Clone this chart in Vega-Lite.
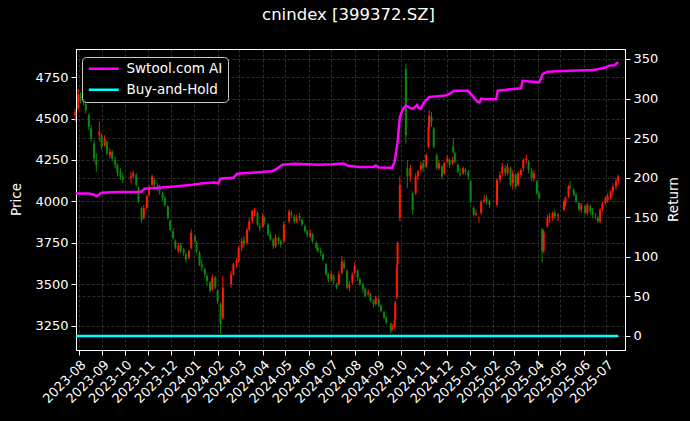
{
  "$schema": "https://vega.github.io/schema/vega-lite/v6.json",
  "width": 549,
  "height": 301,
  "autosize": {"type": "none"},
  "padding": {"left": 76, "top": 49, "right": 65, "bottom": 71},
  "background": "black",
  "title": {"text": "cnindex [399372.SZ]", "color": "white", "fontSize": 16.5, "fontWeight": "normal", "font": "DejaVu Sans", "anchor": "middle", "offset": 26, "dx": -2},
  "config": {
    "view": {"stroke": "white", "strokeWidth": 1},
    "font": "DejaVu Sans",
    "axis": {
      "labelColor": "white", "labelFontSize": 13, "labelFont": "DejaVu Sans",
      "titleColor": "white", "titleFontSize": 13.5, "titleFontWeight": "normal", "titleFont": "DejaVu Sans",
      "tickColor": "white", "tickSize": 5, "domainColor": "white",
      "gridColor": "#808080", "gridOpacity": 0.5, "gridDash": [3, 2], "gridWidth": 0.7,
      "labelPadding": 3
    },
    "legend": {
      "labelColor": "white", "labelFontSize": 13.5, "labelFont": "DejaVu Sans",
      "fillColor": "rgba(0,0,0,0.8)", "strokeColor": "#cccccc", "cornerRadius": 4
    }
  },
  "datasets": {
    "candles": [
      {"d":"2023-07-27","o":4520,"h":4560,"l":4480,"c":4540},
      {"d":"2023-07-31","o":4560,"h":4680,"l":4550,"c":4650},
      {"d":"2023-08-03","o":4640,"h":4660,"l":4590,"c":4610},
      {"d":"2023-08-07","o":4620,"h":4650,"l":4580,"c":4600},
      {"d":"2023-08-10","o":4590,"h":4610,"l":4530,"c":4550},
      {"d":"2023-08-14","o":4520,"h":4530,"l":4430,"c":4450},
      {"d":"2023-08-17","o":4440,"h":4460,"l":4360,"c":4380},
      {"d":"2023-08-21","o":4350,"h":4370,"l":4240,"c":4260},
      {"d":"2023-08-24","o":4250,"h":4290,"l":4180,"c":4220},
      {"d":"2023-08-28","o":4400,"h":4482,"l":4360,"c":4420},
      {"d":"2023-08-31","o":4400,"h":4410,"l":4310,"c":4330},
      {"d":"2023-09-04","o":4340,"h":4400,"l":4330,"c":4380},
      {"d":"2023-09-07","o":4360,"h":4370,"l":4280,"c":4290},
      {"d":"2023-09-11","o":4280,"h":4320,"l":4260,"c":4300},
      {"d":"2023-09-14","o":4300,"h":4310,"l":4240,"c":4260},
      {"d":"2023-09-18","o":4250,"h":4270,"l":4200,"c":4220},
      {"d":"2023-09-21","o":4220,"h":4230,"l":4150,"c":4170},
      {"d":"2023-09-25","o":4180,"h":4200,"l":4130,"c":4150},
      {"d":"2023-09-28","o":4150,"h":4170,"l":4110,"c":4130},
      {"d":"2023-10-09","o":4140,"h":4180,"l":4110,"c":4150},
      {"d":"2023-10-12","o":4150,"h":4185,"l":4140,"c":4170},
      {"d":"2023-10-16","o":4160,"h":4170,"l":4090,"c":4100},
      {"d":"2023-10-19","o":4080,"h":4090,"l":3990,"c":4000},
      {"d":"2023-10-23","o":3960,"h":3970,"l":3872,"c":3890},
      {"d":"2023-10-26","o":3900,"h":3980,"l":3890,"c":3960},
      {"d":"2023-10-30","o":3960,"h":4040,"l":3950,"c":4030},
      {"d":"2023-11-02","o":4040,"h":4100,"l":4030,"c":4080},
      {"d":"2023-11-06","o":4100,"h":4162,"l":4090,"c":4150},
      {"d":"2023-11-09","o":4130,"h":4140,"l":4080,"c":4100},
      {"d":"2023-11-13","o":4090,"h":4110,"l":4060,"c":4080},
      {"d":"2023-11-16","o":4090,"h":4100,"l":4040,"c":4060},
      {"d":"2023-11-20","o":4050,"h":4060,"l":4000,"c":4020},
      {"d":"2023-11-23","o":4020,"h":4030,"l":3970,"c":3980},
      {"d":"2023-11-27","o":3970,"h":3980,"l":3890,"c":3900},
      {"d":"2023-11-30","o":3880,"h":3890,"l":3820,"c":3830},
      {"d":"2023-12-04","o":3820,"h":3840,"l":3770,"c":3780},
      {"d":"2023-12-07","o":3760,"h":3770,"l":3710,"c":3720},
      {"d":"2023-12-11","o":3700,"h":3750,"l":3690,"c":3730},
      {"d":"2023-12-14","o":3740,"h":3750,"l":3690,"c":3700},
      {"d":"2023-12-18","o":3710,"h":3720,"l":3670,"c":3690},
      {"d":"2023-12-21","o":3680,"h":3690,"l":3630,"c":3650},
      {"d":"2023-12-25","o":3660,"h":3710,"l":3650,"c":3700},
      {"d":"2023-12-28","o":3720,"h":3830,"l":3710,"c":3810},
      {"d":"2024-01-02","o":3790,"h":3800,"l":3750,"c":3760},
      {"d":"2024-01-04","o":3750,"h":3760,"l":3690,"c":3700},
      {"d":"2024-01-08","o":3690,"h":3700,"l":3610,"c":3620},
      {"d":"2024-01-11","o":3620,"h":3650,"l":3580,"c":3600},
      {"d":"2024-01-15","o":3590,"h":3600,"l":3540,"c":3560},
      {"d":"2024-01-18","o":3550,"h":3560,"l":3490,"c":3520},
      {"d":"2024-01-22","o":3510,"h":3520,"l":3450,"c":3460},
      {"d":"2024-01-25","o":3470,"h":3560,"l":3460,"c":3540},
      {"d":"2024-01-29","o":3540,"h":3550,"l":3470,"c":3480},
      {"d":"2024-02-01","o":3460,"h":3470,"l":3380,"c":3400},
      {"d":"2024-02-05","o":3380,"h":3390,"l":3202,"c":3260},
      {"d":"2024-02-08","o":3300,"h":3550,"l":3290,"c":3480},
      {"d":"2024-02-19","o":3500,"h":3580,"l":3480,"c":3560},
      {"d":"2024-02-22","o":3560,"h":3630,"l":3550,"c":3620},
      {"d":"2024-02-26","o":3630,"h":3660,"l":3600,"c":3640},
      {"d":"2024-02-29","o":3640,"h":3730,"l":3630,"c":3720},
      {"d":"2024-03-04","o":3720,"h":3780,"l":3700,"c":3760},
      {"d":"2024-03-07","o":3770,"h":3790,"l":3720,"c":3740},
      {"d":"2024-03-11","o":3750,"h":3840,"l":3740,"c":3830},
      {"d":"2024-03-14","o":3830,"h":3900,"l":3820,"c":3880},
      {"d":"2024-03-18","o":3880,"h":3950,"l":3870,"c":3940},
      {"d":"2024-03-21","o":3930,"h":3962,"l":3910,"c":3950},
      {"d":"2024-03-25","o":3930,"h":3940,"l":3850,"c":3860},
      {"d":"2024-03-28","o":3850,"h":3870,"l":3820,"c":3840},
      {"d":"2024-04-01","o":3850,"h":3930,"l":3840,"c":3910},
      {"d":"2024-04-03","o":3900,"h":3910,"l":3860,"c":3880},
      {"d":"2024-04-08","o":3860,"h":3870,"l":3790,"c":3800},
      {"d":"2024-04-11","o":3800,"h":3820,"l":3760,"c":3770},
      {"d":"2024-04-15","o":3770,"h":3780,"l":3712,"c":3730},
      {"d":"2024-04-18","o":3730,"h":3800,"l":3720,"c":3780},
      {"d":"2024-04-22","o":3780,"h":3790,"l":3740,"c":3760},
      {"d":"2024-04-25","o":3760,"h":3770,"l":3720,"c":3740},
      {"d":"2024-04-29","o":3760,"h":3880,"l":3750,"c":3860},
      {"d":"2024-05-06","o":3880,"h":3952,"l":3870,"c":3940},
      {"d":"2024-05-09","o":3930,"h":3945,"l":3900,"c":3920},
      {"d":"2024-05-13","o":3910,"h":3920,"l":3870,"c":3880},
      {"d":"2024-05-16","o":3880,"h":3920,"l":3870,"c":3900},
      {"d":"2024-05-20","o":3910,"h":3930,"l":3880,"c":3900},
      {"d":"2024-05-23","o":3890,"h":3900,"l":3850,"c":3860},
      {"d":"2024-05-27","o":3850,"h":3860,"l":3810,"c":3820},
      {"d":"2024-05-30","o":3820,"h":3830,"l":3780,"c":3800},
      {"d":"2024-06-03","o":3790,"h":3830,"l":3780,"c":3810},
      {"d":"2024-06-06","o":3800,"h":3810,"l":3750,"c":3760},
      {"d":"2024-06-11","o":3750,"h":3760,"l":3710,"c":3720},
      {"d":"2024-06-13","o":3720,"h":3740,"l":3690,"c":3700},
      {"d":"2024-06-17","o":3700,"h":3720,"l":3670,"c":3690},
      {"d":"2024-06-20","o":3680,"h":3690,"l":3640,"c":3650},
      {"d":"2024-06-24","o":3620,"h":3630,"l":3550,"c":3560},
      {"d":"2024-06-27","o":3560,"h":3570,"l":3510,"c":3530},
      {"d":"2024-07-01","o":3530,"h":3580,"l":3520,"c":3560},
      {"d":"2024-07-04","o":3550,"h":3560,"l":3500,"c":3520},
      {"d":"2024-07-08","o":3500,"h":3510,"l":3470,"c":3480},
      {"d":"2024-07-11","o":3500,"h":3580,"l":3490,"c":3560},
      {"d":"2024-07-15","o":3570,"h":3672,"l":3560,"c":3640},
      {"d":"2024-07-18","o":3630,"h":3650,"l":3590,"c":3600},
      {"d":"2024-07-22","o":3580,"h":3590,"l":3470,"c":3480},
      {"d":"2024-07-25","o":3480,"h":3520,"l":3460,"c":3500},
      {"d":"2024-07-29","o":3510,"h":3570,"l":3500,"c":3560},
      {"d":"2024-08-01","o":3570,"h":3632,"l":3560,"c":3610},
      {"d":"2024-08-05","o":3580,"h":3590,"l":3520,"c":3540},
      {"d":"2024-08-08","o":3530,"h":3540,"l":3490,"c":3500},
      {"d":"2024-08-12","o":3500,"h":3510,"l":3450,"c":3470},
      {"d":"2024-08-15","o":3470,"h":3480,"l":3420,"c":3430},
      {"d":"2024-08-19","o":3440,"h":3470,"l":3430,"c":3450},
      {"d":"2024-08-22","o":3440,"h":3450,"l":3390,"c":3400},
      {"d":"2024-08-26","o":3400,"h":3410,"l":3360,"c":3380},
      {"d":"2024-08-29","o":3380,"h":3430,"l":3370,"c":3420},
      {"d":"2024-09-02","o":3410,"h":3420,"l":3360,"c":3370},
      {"d":"2024-09-05","o":3370,"h":3380,"l":3330,"c":3340},
      {"d":"2024-09-09","o":3330,"h":3340,"l":3290,"c":3300},
      {"d":"2024-09-12","o":3300,"h":3310,"l":3260,"c":3270},
      {"d":"2024-09-18","o":3260,"h":3270,"l":3202,"c":3220},
      {"d":"2024-09-20","o":3230,"h":3260,"l":3220,"c":3240},
      {"d":"2024-09-23","o":3240,"h":3290,"l":3230,"c":3280},
      {"d":"2024-09-24","o":3290,"h":3400,"l":3280,"c":3390},
      {"d":"2024-09-26","o":3420,"h":3620,"l":3410,"c":3600},
      {"d":"2024-09-27","o":3620,"h":3760,"l":3600,"c":3750},
      {"d":"2024-09-30","o":3900,"h":4150,"l":3880,"c":4100},
      {"d":"2024-10-08","o":4800,"h":4832,"l":4350,"c":4400},
      {"d":"2024-10-10","o":4200,"h":4250,"l":4080,"c":4150},
      {"d":"2024-10-14","o":4150,"h":4220,"l":4120,"c":4200},
      {"d":"2024-10-17","o":4050,"h":4060,"l":3922,"c":3950},
      {"d":"2024-10-21","o":4050,"h":4170,"l":4040,"c":4150},
      {"d":"2024-10-24","o":4150,"h":4190,"l":4130,"c":4180},
      {"d":"2024-10-28","o":4190,"h":4240,"l":4170,"c":4220},
      {"d":"2024-10-31","o":4230,"h":4250,"l":4180,"c":4200},
      {"d":"2024-11-04","o":4210,"h":4290,"l":4200,"c":4280},
      {"d":"2024-11-07","o":4330,"h":4470,"l":4320,"c":4450},
      {"d":"2024-11-08","o":4450,"h":4552,"l":4430,"c":4520},
      {"d":"2024-11-11","o":4510,"h":4540,"l":4450,"c":4480},
      {"d":"2024-11-14","o":4440,"h":4450,"l":4320,"c":4330},
      {"d":"2024-11-18","o":4280,"h":4290,"l":4190,"c":4200},
      {"d":"2024-11-21","o":4200,"h":4250,"l":4190,"c":4230},
      {"d":"2024-11-25","o":4210,"h":4220,"l":4130,"c":4150},
      {"d":"2024-11-28","o":4170,"h":4240,"l":4160,"c":4230},
      {"d":"2024-12-02","o":4240,"h":4280,"l":4230,"c":4260},
      {"d":"2024-12-05","o":4250,"h":4260,"l":4200,"c":4220},
      {"d":"2024-12-09","o":4230,"h":4270,"l":4220,"c":4250},
      {"d":"2024-12-10","o":4330,"h":4382,"l":4290,"c":4300},
      {"d":"2024-12-12","o":4290,"h":4300,"l":4230,"c":4240},
      {"d":"2024-12-16","o":4220,"h":4230,"l":4170,"c":4180},
      {"d":"2024-12-19","o":4170,"h":4200,"l":4150,"c":4160},
      {"d":"2024-12-23","o":4170,"h":4210,"l":4160,"c":4200},
      {"d":"2024-12-26","o":4190,"h":4200,"l":4160,"c":4180},
      {"d":"2024-12-30","o":4180,"h":4190,"l":4130,"c":4150},
      {"d":"2025-01-02","o":4120,"h":4130,"l":3990,"c":4000},
      {"d":"2025-01-06","o":3960,"h":3970,"l":3910,"c":3920},
      {"d":"2025-01-09","o":3920,"h":3950,"l":3910,"c":3930},
      {"d":"2025-01-13","o":3900,"h":3910,"l":3872,"c":3900},
      {"d":"2025-01-16","o":3930,"h":4010,"l":3920,"c":4000},
      {"d":"2025-01-20","o":4000,"h":4040,"l":3990,"c":4010},
      {"d":"2025-01-23","o":4020,"h":4040,"l":3980,"c":4000},
      {"d":"2025-01-27","o":4000,"h":4010,"l":3960,"c":3980},
      {"d":"2025-02-06","o":3980,"h":4140,"l":3970,"c":4130},
      {"d":"2025-02-10","o":4130,"h":4180,"l":4110,"c":4160},
      {"d":"2025-02-13","o":4170,"h":4232,"l":4150,"c":4210},
      {"d":"2025-02-17","o":4200,"h":4220,"l":4150,"c":4170},
      {"d":"2025-02-20","o":4170,"h":4230,"l":4160,"c":4210},
      {"d":"2025-02-24","o":4200,"h":4210,"l":4090,"c":4100},
      {"d":"2025-02-27","o":4110,"h":4190,"l":4070,"c":4170},
      {"d":"2025-03-03","o":4160,"h":4170,"l":4072,"c":4090},
      {"d":"2025-03-06","o":4100,"h":4182,"l":4090,"c":4170},
      {"d":"2025-03-10","o":4160,"h":4200,"l":4140,"c":4190},
      {"d":"2025-03-13","o":4200,"h":4260,"l":4180,"c":4250},
      {"d":"2025-03-17","o":4250,"h":4282,"l":4230,"c":4260},
      {"d":"2025-03-20","o":4240,"h":4250,"l":4170,"c":4190},
      {"d":"2025-03-24","o":4180,"h":4200,"l":4120,"c":4140},
      {"d":"2025-03-27","o":4140,"h":4190,"l":4120,"c":4170},
      {"d":"2025-03-31","o":4120,"h":4130,"l":4040,"c":4050},
      {"d":"2025-04-03","o":4050,"h":4060,"l":4010,"c":4020},
      {"d":"2025-04-07","o":3830,"h":3840,"l":3632,"c":3700},
      {"d":"2025-04-09","o":3700,"h":3830,"l":3690,"c":3820},
      {"d":"2025-04-14","o":3850,"h":3920,"l":3840,"c":3900},
      {"d":"2025-04-17","o":3900,"h":3930,"l":3870,"c":3910},
      {"d":"2025-04-21","o":3900,"h":3940,"l":3880,"c":3930},
      {"d":"2025-04-24","o":3930,"h":3950,"l":3890,"c":3910},
      {"d":"2025-04-28","o":3910,"h":3930,"l":3880,"c":3920},
      {"d":"2025-05-06","o":3950,"h":4010,"l":3940,"c":4000},
      {"d":"2025-05-08","o":3990,"h":4030,"l":3970,"c":4020},
      {"d":"2025-05-12","o":4030,"h":4100,"l":4020,"c":4090},
      {"d":"2025-05-14","o":4090,"h":4122,"l":4070,"c":4080},
      {"d":"2025-05-19","o":4070,"h":4080,"l":4030,"c":4040},
      {"d":"2025-05-22","o":4040,"h":4050,"l":3990,"c":4000},
      {"d":"2025-05-26","o":3990,"h":4000,"l":3940,"c":3950},
      {"d":"2025-05-29","o":3950,"h":3990,"l":3930,"c":3980},
      {"d":"2025-06-03","o":3970,"h":3980,"l":3920,"c":3930},
      {"d":"2025-06-06","o":3930,"h":3990,"l":3920,"c":3980},
      {"d":"2025-06-10","o":3970,"h":3980,"l":3920,"c":3940},
      {"d":"2025-06-13","o":3940,"h":3960,"l":3900,"c":3920},
      {"d":"2025-06-17","o":3910,"h":3930,"l":3890,"c":3910},
      {"d":"2025-06-20","o":3900,"h":3910,"l":3872,"c":3880},
      {"d":"2025-06-23","o":3880,"h":3960,"l":3870,"c":3950},
      {"d":"2025-06-26","o":3950,"h":4000,"l":3940,"c":3990},
      {"d":"2025-06-30","o":3990,"h":4030,"l":3980,"c":4020},
      {"d":"2025-07-03","o":4010,"h":4050,"l":3990,"c":4030},
      {"d":"2025-07-07","o":4020,"h":4070,"l":4010,"c":4060},
      {"d":"2025-07-10","o":4060,"h":4110,"l":4040,"c":4090},
      {"d":"2025-07-14","o":4090,"h":4140,"l":4070,"c":4120},
      {"d":"2025-07-17","o":4120,"h":4162,"l":4100,"c":4150}
    ],
    "ret": [
      {"d":"2023-07-28","s":"Swtool.com AI","v":180},
      {"d":"2023-08-14","s":"Swtool.com AI","v":180},
      {"d":"2023-08-21","s":"Swtool.com AI","v":178.5},
      {"d":"2023-08-24","s":"Swtool.com AI","v":176.5},
      {"d":"2023-08-31","s":"Swtool.com AI","v":181},
      {"d":"2023-09-22","s":"Swtool.com AI","v":182},
      {"d":"2023-10-19","s":"Swtool.com AI","v":182},
      {"d":"2023-10-23","s":"Swtool.com AI","v":182.5},
      {"d":"2023-10-27","s":"Swtool.com AI","v":186},
      {"d":"2023-11-19","s":"Swtool.com AI","v":187.5},
      {"d":"2023-12-06","s":"Swtool.com AI","v":189},
      {"d":"2023-12-29","s":"Swtool.com AI","v":191},
      {"d":"2024-01-13","s":"Swtool.com AI","v":193},
      {"d":"2024-01-28","s":"Swtool.com AI","v":194},
      {"d":"2024-02-02","s":"Swtool.com AI","v":193},
      {"d":"2024-02-05","s":"Swtool.com AI","v":199},
      {"d":"2024-02-22","s":"Swtool.com AI","v":200},
      {"d":"2024-02-27","s":"Swtool.com AI","v":205},
      {"d":"2024-03-22","s":"Swtool.com AI","v":206.5},
      {"d":"2024-04-13","s":"Swtool.com AI","v":208},
      {"d":"2024-04-20","s":"Swtool.com AI","v":211.5},
      {"d":"2024-04-27","s":"Swtool.com AI","v":216.5},
      {"d":"2024-05-14","s":"Swtool.com AI","v":217.5},
      {"d":"2024-06-14","s":"Swtool.com AI","v":216.5},
      {"d":"2024-07-02","s":"Swtool.com AI","v":217},
      {"d":"2024-07-17","s":"Swtool.com AI","v":218},
      {"d":"2024-07-24","s":"Swtool.com AI","v":215},
      {"d":"2024-08-07","s":"Swtool.com AI","v":213.5},
      {"d":"2024-08-26","s":"Swtool.com AI","v":213.5},
      {"d":"2024-08-29","s":"Swtool.com AI","v":215.5},
      {"d":"2024-09-02","s":"Swtool.com AI","v":213},
      {"d":"2024-09-20","s":"Swtool.com AI","v":212.5},
      {"d":"2024-09-23","s":"Swtool.com AI","v":220},
      {"d":"2024-09-27","s":"Swtool.com AI","v":245},
      {"d":"2024-09-30","s":"Swtool.com AI","v":276},
      {"d":"2024-10-04","s":"Swtool.com AI","v":287},
      {"d":"2024-10-08","s":"Swtool.com AI","v":291},
      {"d":"2024-10-10","s":"Swtool.com AI","v":290},
      {"d":"2024-10-14","s":"Swtool.com AI","v":288},
      {"d":"2024-10-17","s":"Swtool.com AI","v":287},
      {"d":"2024-10-21","s":"Swtool.com AI","v":290},
      {"d":"2024-10-23","s":"Swtool.com AI","v":292},
      {"d":"2024-10-25","s":"Swtool.com AI","v":288},
      {"d":"2024-10-28","s":"Swtool.com AI","v":287},
      {"d":"2024-11-01","s":"Swtool.com AI","v":295},
      {"d":"2024-11-06","s":"Swtool.com AI","v":300},
      {"d":"2024-11-08","s":"Swtool.com AI","v":302},
      {"d":"2024-11-20","s":"Swtool.com AI","v":303},
      {"d":"2024-11-30","s":"Swtool.com AI","v":304},
      {"d":"2024-12-05","s":"Swtool.com AI","v":306},
      {"d":"2024-12-11","s":"Swtool.com AI","v":310},
      {"d":"2024-12-29","s":"Swtool.com AI","v":310},
      {"d":"2025-01-04","s":"Swtool.com AI","v":304},
      {"d":"2025-01-11","s":"Swtool.com AI","v":296},
      {"d":"2025-01-14","s":"Swtool.com AI","v":295},
      {"d":"2025-01-16","s":"Swtool.com AI","v":300},
      {"d":"2025-01-22","s":"Swtool.com AI","v":299},
      {"d":"2025-02-05","s":"Swtool.com AI","v":299},
      {"d":"2025-02-07","s":"Swtool.com AI","v":310},
      {"d":"2025-02-18","s":"Swtool.com AI","v":311},
      {"d":"2025-03-03","s":"Swtool.com AI","v":312.5},
      {"d":"2025-03-10","s":"Swtool.com AI","v":313},
      {"d":"2025-03-12","s":"Swtool.com AI","v":322.5},
      {"d":"2025-04-03","s":"Swtool.com AI","v":320.5},
      {"d":"2025-04-08","s":"Swtool.com AI","v":331},
      {"d":"2025-04-14","s":"Swtool.com AI","v":334},
      {"d":"2025-05-13","s":"Swtool.com AI","v":335},
      {"d":"2025-06-13","s":"Swtool.com AI","v":336},
      {"d":"2025-06-20","s":"Swtool.com AI","v":337},
      {"d":"2025-07-01","s":"Swtool.com AI","v":339.5},
      {"d":"2025-07-05","s":"Swtool.com AI","v":341.5},
      {"d":"2025-07-12","s":"Swtool.com AI","v":342},
      {"d":"2025-07-17","s":"Swtool.com AI","v":346},
      {"d":"2023-07-28","s":"Buy-and-Hold","v":0},
      {"d":"2025-07-17","s":"Buy-and-Hold","v":0}
    ]
  },
  "layer": [
    {
      "data": {"name": "candles"},
      "encoding": {
        "x": {
          "field": "d", "type": "temporal",
          "scale": {"domain": [{"year": 2023, "month": "jul", "date": 28}, {"year": 2025, "month": "jul", "date": 26}], "nice": false, "padding": 0},
          "axis": {"title": null, "format": "%Y-%m", "tickCount": {"interval": "month", "step": 1}, "labelAngle": -45, "labelAlign": "right", "labelBaseline": "top", "grid": true, "labelOverlap": false}
        },
        "color": {"condition": {"test": "datum.c >= datum.o", "value": "#ff1a00"}, "value": "#0a8a0a"}
      },
      "layer": [
        {
          "mark": {"type": "rule", "strokeWidth": 1},
          "encoding": {
            "y": {"field": "l", "type": "quantitative", "scale": {"domain": [3103, 4920], "nice": false, "zero": false},
                  "axis": {"title": "Price", "format": "d", "values": [3250, 3500, 3750, 4000, 4250, 4500, 4750], "grid": true, "titleAngle": 270, "titleX": -60, "titleY": 150, "titleAlign": "center", "titleBaseline": "middle"}},
            "y2": {"field": "h"}
          }
        },
        {
          "mark": {"type": "bar", "size": 2},
          "encoding": {
            "y": {"field": "o", "type": "quantitative"},
            "y2": {"field": "c"}
          }
        }
      ]
    },
    {
      "data": {"name": "ret"},
      "mark": {"type": "line", "strokeWidth": 2.5},
      "encoding": {
        "x": {"field": "d", "type": "temporal"},
        "y": {"field": "v", "type": "quantitative", "scale": {"domain": [-17.7, 362.6], "nice": false, "zero": false},
              "axis": {"orient": "right", "title": "Return", "values": [0, 50, 100, 150, 200, 250, 300, 350], "grid": true, "titleAngle": 270, "titleX": 48, "titleY": 150, "titleAlign": "center", "titleBaseline": "middle"}},
        "color": {
          "field": "s", "type": "nominal",
          "scale": {"domain": ["Swtool.com AI", "Buy-and-Hold"], "range": ["#ff00ff", "#00ffff"]},
          "legend": {"title": null, "orient": "none", "legendX": 6, "legendY": 8, "symbolType": "M-4,0H4", "symbolSize": 56.25, "symbolStrokeWidth": 2.5, "symbolOffset": 10, "labelOffset": 16, "padding": 5, "rowPadding": 6}
        }
      }
    }
  ],
  "resolve": {"scale": {"y": "independent", "color": "independent"}, "axis": {"y": "independent"}}
}
